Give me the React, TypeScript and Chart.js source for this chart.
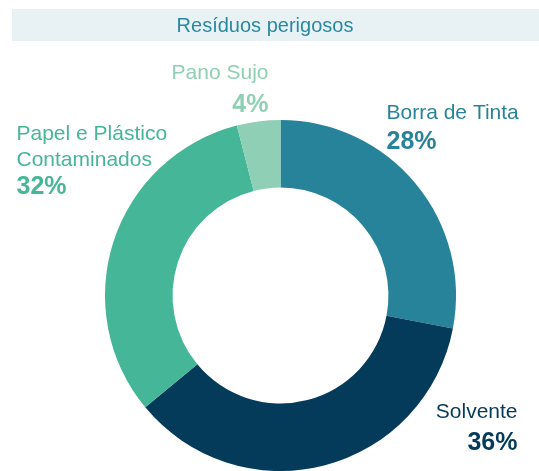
import React, { useEffect, useRef } from "react";
import { Chart, registerables } from "chart.js";

Chart.register(...registerables);

const TITLE = "Resíduos perigosos";
const categories = ["Borra de Tinta", "Solvente", "Papel e Plástico Contaminados", "Pano Sujo"];
const nameLines = [["Borra de Tinta"], ["Solvente"], ["Papel e Plástico", "Contaminados"], ["Pano Sujo"]];
const values = [28, 36, 32, 4];
const colors = ["#27839A", "#053B5A", "#45B697", "#8ECFB5"];

// label placement relative to the doughnut centre (px), text alignment and gap to the % line
const labelLayout = [
  { dx: 106, dy: -177, align: "left", gap: 30 },
  { dx: 237, dy: 122, align: "right", gap: 32 },
  { dx: -264, dy: -156, align: "left", gap: 28 },
  { dx: -12, dy: -217, align: "right", gap: 33 },
];

const FONT = "'Liberation Sans', Arial, sans-serif";

const titlePlugin = {
  id: "titleBar",
  beforeDraw(chart: any) {
    const ctx = chart.ctx;
    ctx.save();
    ctx.fillStyle = "#E8F2F5";
    ctx.fillRect(12, 9, chart.width - 12, 32);
    ctx.fillStyle = "#2A89A0";
    ctx.font = `20px ${FONT}`;
    ctx.textAlign = "center";
    ctx.textBaseline = "alphabetic";
    ctx.fillText(TITLE, 265, 32);
    ctx.restore();
  },
};

const labelPlugin = {
  id: "sliceLabels",
  afterDatasetsDraw(chart: any) {
    const ctx = chart.ctx;
    const meta = chart.getDatasetMeta(0);
    const data = chart.data.datasets[0].data as number[];
    const total = data.reduce((a, b) => a + b, 0);
    meta.data.forEach((arc: any, i: number) => {
      const lay = labelLayout[i];
      const x = arc.x + lay.dx;
      let y = arc.y + lay.dy;
      ctx.save();
      ctx.fillStyle = colors[i];
      ctx.textAlign = lay.align;
      ctx.textBaseline = "alphabetic";
      ctx.font = `21px ${FONT}`;
      nameLines[i].forEach((line, j) => {
        if (j > 0) y += 26;
        ctx.fillText(line, x, y);
      });
      ctx.font = `bold 25px ${FONT}`;
      ctx.fillText(`${Math.round((data[i] / total) * 100)}%`, x, y + lay.gap);
      ctx.restore();
    });
  },
};

export default function App() {
  const ref = useRef<HTMLCanvasElement>(null);
  useEffect(() => {
    if (!ref.current) return;
    const chart = new Chart(ref.current, {
      type: "doughnut",
      data: {
        labels: categories,
        datasets: [
          {
            data: values,
            backgroundColor: colors,
            borderWidth: 0,
          },
        ],
      },
      options: {
        responsive: false,
        animation: false,
        cutout: "61.5%",
        layout: { padding: { top: 120, bottom: 0, left: 105, right: 83 } },
        plugins: {
          legend: { display: false },
          tooltip: { enabled: false },
          title: { display: false },
        },
      },
      plugins: [titlePlugin, labelPlugin],
    });
    return () => chart.destroy();
  }, []);
  return (
    <div style={{ position: "fixed", left: 0, top: 0, width: 539, height: 471, background: "#fff" }}>
      <canvas ref={ref} width={539} height={471} style={{ display: "block" }} />
    </div>
  );
}
